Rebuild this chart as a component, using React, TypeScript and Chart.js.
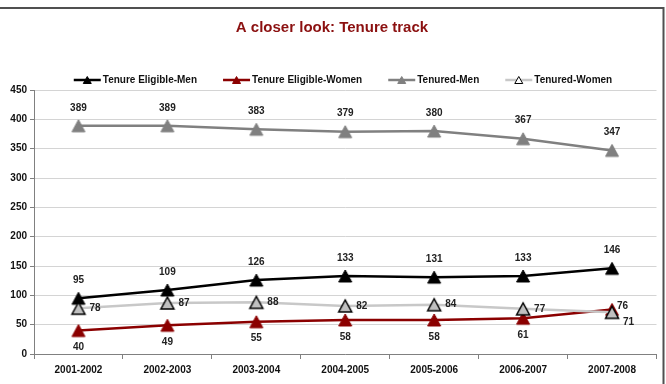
import { useEffect, useRef } from "react";
import { Chart, registerables } from "chart.js";

Chart.register(...registerables);

const years = ["2001-2002", "2002-2003", "2003-2004", "2004-2005", "2005-2006", "2006-2007", "2007-2008"];
const tenureEligibleMen = [95, 109, 126, 133, 131, 133, 146];
const tenureEligibleWomen = [40, 49, 55, 58, 58, 61, 76];
const tenuredMen = [389, 389, 383, 379, 380, 367, 347];
const tenuredWomen = [78, 87, 88, 82, 84, 77, 71];
const yTicks = [0, 50, 100, 150, 200, 250, 300, 350, 400, 450];
const chartTitle = "A closer look: Tenure track";

const FONT = "'Liberation Sans', Arial, Helvetica, sans-serif";
const LABEL_COLOR = "#222222";

type LabelPos = "above" | "below" | "right" | "rightHigh" | "rightLow";

interface SeriesStyle {
  label: string;
  data: number[];
  line: string;
  fill: string;
  stroke: string;
  legendFill: string;
  labelPos: LabelPos[];
  order: number;
}

const series: SeriesStyle[] = [
  {
    label: "Tenure Eligible-Men",
    data: tenureEligibleMen,
    line: "#000000",
    fill: "#000000",
    stroke: "#000000",
    legendFill: "#000000",
    labelPos: years.map(() => "above" as LabelPos),
    order: 1,
  },
  {
    label: "Tenure Eligible-Women",
    data: tenureEligibleWomen,
    line: "#8b0000",
    fill: "#8b0000",
    stroke: "#8b0000",
    legendFill: "#8b0000",
    labelPos: years.map((_, i) => (i === years.length - 1 ? "rightHigh" : "below") as LabelPos),
    order: 2,
  },
  {
    label: "Tenured-Men",
    data: tenuredMen,
    line: "#808080",
    fill: "#808080",
    stroke: "#808080",
    legendFill: "#808080",
    labelPos: years.map(() => "above" as LabelPos),
    order: 3,
  },
  {
    label: "Tenured-Women",
    data: tenuredWomen,
    line: "#c8c8c8",
    fill: "#c0c0c0",
    stroke: "#000000",
    legendFill: "#ffffff",
    labelPos: years.map((_, i) => (i === years.length - 1 ? "rightLow" : "right") as LabelPos),
    order: 0,
  },
];

// triangle centred on its bounding box (apex up)
function traceTriangle(ctx: CanvasRenderingContext2D, cx: number, cy: number, w: number, h: number) {
  ctx.beginPath();
  ctx.moveTo(cx, cy - h / 2);
  ctx.lineTo(cx + w / 2, cy + h / 2);
  ctx.lineTo(cx - w / 2, cy + h / 2);
  ctx.closePath();
}

function makeMarker(fill: string, stroke: string, lw: number): HTMLCanvasElement {
  const size = 18;
  const c = document.createElement("canvas");
  c.width = size;
  c.height = size;
  const g = c.getContext("2d")!;
  traceTriangle(g, size / 2, size / 2, 13, 12);
  g.fillStyle = fill;
  g.fill();
  g.lineWidth = lw;
  g.strokeStyle = stroke;
  g.lineJoin = "miter";
  g.stroke();
  return c;
}

const valueLabels = {
  id: "valueLabels",
  afterDatasetsDraw(chart: Chart) {
    const ctx = chart.ctx;
    ctx.save();
    ctx.font = `bold 10px ${FONT}`;
    ctx.fillStyle = LABEL_COLOR;
    chart.data.datasets.forEach((ds: any, di: number) => {
      const meta = chart.getDatasetMeta(di);
      const s = series[di];
      meta.data.forEach((pt: any, i: number) => {
        const text = String((ds.data as number[])[i]);
        const pos = s.labelPos[i];
        let x = pt.x;
        let y = pt.y;
        ctx.textBaseline = "middle";
        if (pos === "above") {
          ctx.textAlign = "center";
          y -= 18;
        } else if (pos === "below") {
          ctx.textAlign = "center";
          y += 17;
        } else if (pos === "right") {
          ctx.textAlign = "left";
          x += 11;
        } else if (pos === "rightHigh") {
          ctx.textAlign = "left";
          x += 5;
          y -= 3;
        } else {
          ctx.textAlign = "left";
          x += 11;
          y += 10;
        }
        ctx.fillText(text, x, y);
      });
    });
    ctx.restore();
  },
};

const headerAndFrame = {
  id: "headerAndFrame",
  afterDraw(chart: Chart) {
    const ctx = chart.ctx;
    ctx.save();

    // title
    ctx.font = `bold 15px ${FONT}`;
    ctx.fillStyle = "#8b1010";
    ctx.textAlign = "center";
    ctx.textBaseline = "middle";
    ctx.fillText(chartTitle, 332, 28);

    // legend: line with marker, then label
    ctx.font = `bold 10px ${FONT}`;
    const lineLen = 27;
    const textGap = 2;
    const itemGap = 26;
    const widths = series.map((s) => lineLen + textGap + ctx.measureText(s.label).width);
    const total = widths.reduce((a, b) => a + b, 0) + itemGap * (series.length - 1);
    let x = 343 - total / 2;
    const y = 80;
    series.forEach((s, i) => {
      ctx.beginPath();
      ctx.moveTo(x, y);
      ctx.lineTo(x + lineLen, y);
      ctx.strokeStyle = s.line;
      ctx.lineWidth = 2.5;
      ctx.stroke();
      traceTriangle(ctx, x + lineLen / 2, y, 8, 7);
      ctx.fillStyle = s.legendFill;
      ctx.fill();
      ctx.lineWidth = 1;
      ctx.strokeStyle = s.stroke;
      ctx.stroke();
      ctx.fillStyle = "#111111";
      ctx.textAlign = "left";
      ctx.textBaseline = "middle";
      ctx.fillText(s.label, x + lineLen + textGap, y);
      x += widths[i] + itemGap;
    });

    // outer frame
    ctx.beginPath();
    ctx.moveTo(0, 8);
    ctx.lineTo(663.5, 8);
    ctx.lineTo(663.5, 384);
    ctx.strokeStyle = "#505050";
    ctx.lineWidth = 2;
    ctx.stroke();

    ctx.restore();
  },
};

export default function App() {
  const canvasRef = useRef<HTMLCanvasElement | null>(null);

  useEffect(() => {
    if (!canvasRef.current) return;
    const chart = new Chart(canvasRef.current, {
      type: "line",
      data: {
        labels: years,
        datasets: series.map((s) => ({
          label: s.label,
          data: s.data,
          borderColor: s.line,
          borderWidth: 2.5,
          backgroundColor: s.fill,
          pointStyle: makeMarker(s.fill, s.stroke, s.stroke === s.fill ? 1 : 1.5),
          pointRadius: 7,
          tension: 0,
          fill: false,
          order: s.order,
        })),
      },
      options: {
        responsive: false,
        animation: false,
        events: [],
        layout: { padding: { top: 90, right: 9, left: 0, bottom: 0 } },
        plugins: {
          legend: { display: false },
          title: { display: false },
          tooltip: { enabled: false },
        },
        scales: {
          x: {
            offset: true,
            afterFit: (scale: any) => {
              scale.height = 30;
            },
            grid: {
              offset: true,
              drawOnChartArea: false,
              drawTicks: true,
              tickLength: 5,
              tickColor: "#808080",
            },
            border: { display: true, color: "#808080", width: 1 },
            ticks: {
              color: "#111111",
              font: { family: FONT, size: 10, weight: "bold" },
              padding: 5,
              maxRotation: 0,
              autoSkip: false,
            },
          },
          y: {
            min: yTicks[0],
            max: yTicks[yTicks.length - 1],
            afterFit: (scale: any) => {
              scale.width = 34;
            },
            afterBuildTicks: (scale: any) => {
              scale.ticks = yTicks.map((v) => ({ value: v }));
            },
            grid: {
              color: "#d4d4d4",
              lineWidth: 1,
              tickLength: 4,
              tickColor: "#808080",
            },
            border: { display: true, color: "#808080", width: 1 },
            ticks: {
              color: "#111111",
              font: { family: FONT, size: 10, weight: "bold" },
              padding: 3,
            },
          },
        },
      },
      plugins: [valueLabels, headerAndFrame],
    });
    return () => chart.destroy();
  }, []);

  return (
    <div style={{ position: "fixed", left: 0, top: 0, width: 666, height: 384, background: "#ffffff" }}>
      <canvas ref={canvasRef} width={666} height={384} style={{ display: "block" }} />
    </div>
  );
}
